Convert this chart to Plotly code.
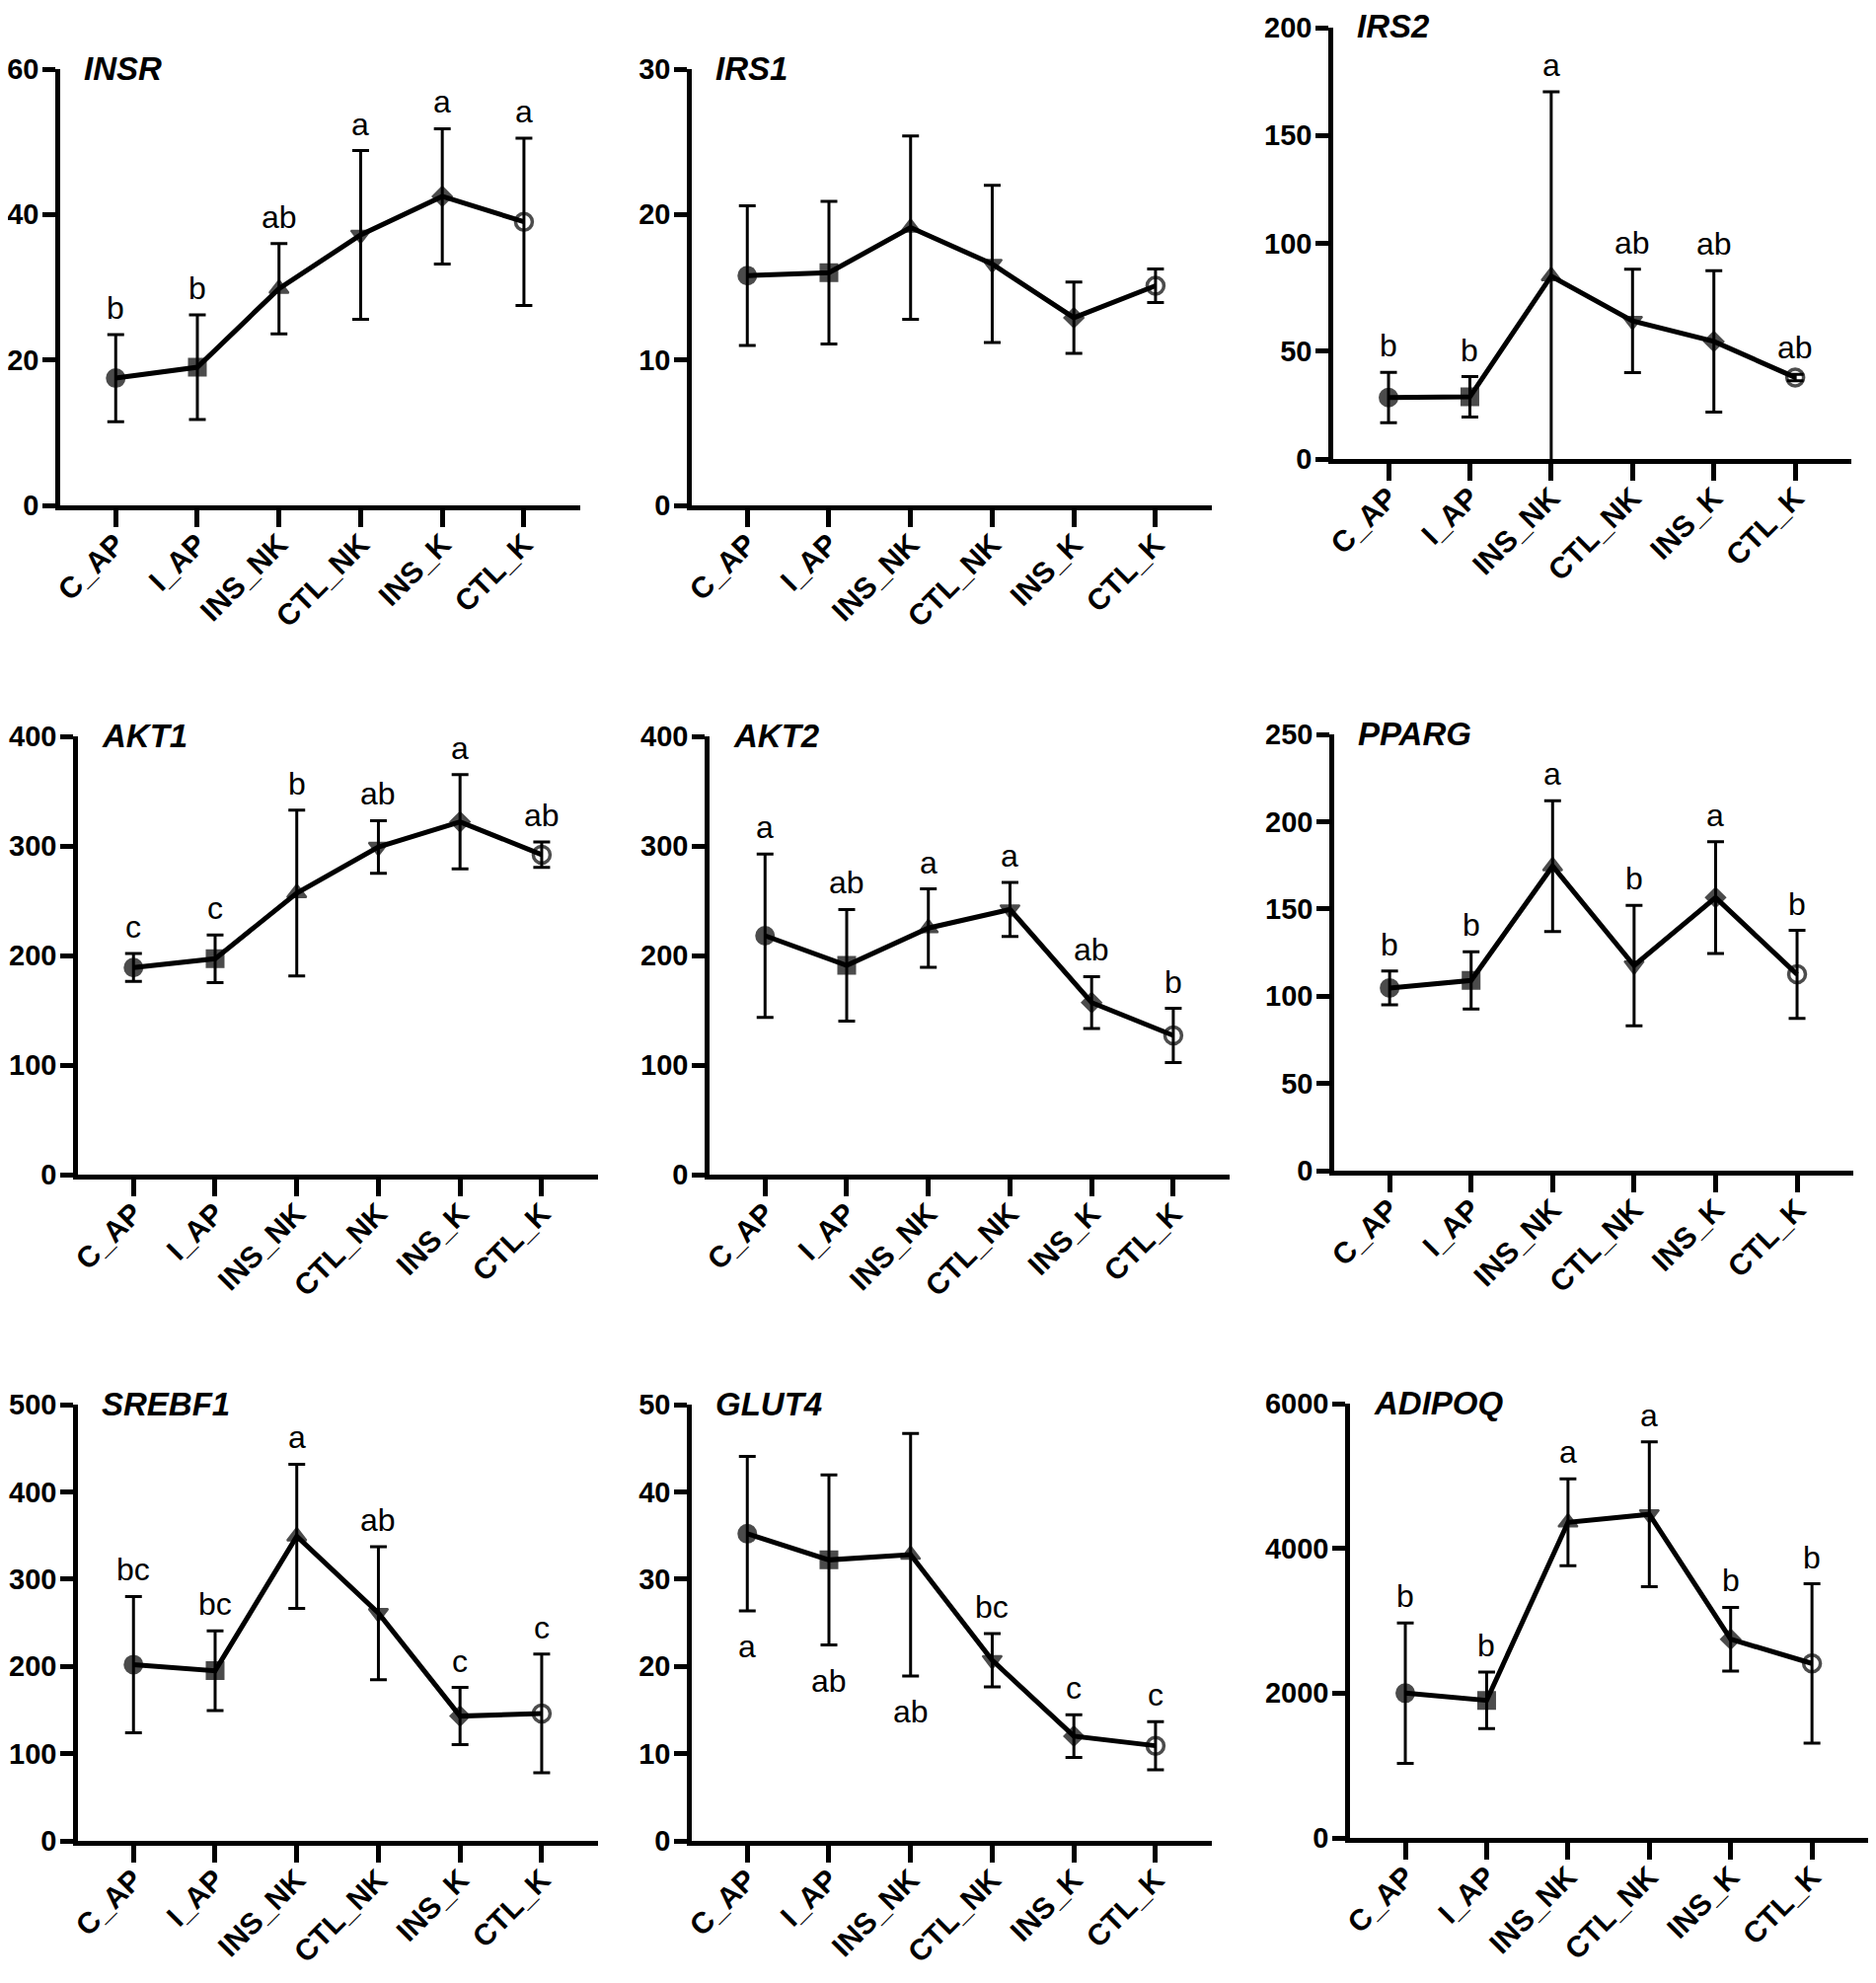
import plotly.graph_objects as go

# Group order on every x axis
groups = ["C_AP", "I_AP", "INS_NK", "CTL_NK", "INS_K", "CTL_K"]

# Mean and SD per gene
insr_mean = [17.5, 19.0, 29.8, 37.2, 42.5, 39.0]
insr_sd = [6.0, 7.2, 6.2, 11.6, 9.3, 11.5]
insr_letters = ["b", "b", "ab", "a", "a", "a"]

irs1_mean = [15.8, 16.0, 19.1, 16.6, 12.9, 15.1]
irs1_sd = [4.8, 4.9, 6.3, 5.4, 2.45, 1.15]
irs1_letters = ["", "", "", "", "", ""]

irs2_mean = [28.5, 28.8, 84.8, 64.0, 54.5, 37.8]
irs2_sd = [11.7, 9.4, 85.5, 24.0, 32.8, 1.5]
irs2_letters = ["b", "b", "a", "ab", "ab", "ab"]

akt1_mean = [189, 197, 257, 299, 322, 292]
akt1_sd = [12.7, 21.8, 75.6, 24.0, 43.0, 11.6]
akt1_letters = ["c", "c", "b", "ab", "a", "ab"]

akt2_mean = [218, 191, 225, 242, 157, 127]
akt2_sd = [74.6, 51.0, 35.7, 24.6, 23.7, 24.7]
akt2_letters = ["a", "ab", "a", "a", "ab", "b"]

pparg_mean = [104.7, 109.0, 174.5, 117.5, 156.5, 112.5]
pparg_sd = [9.7, 16.4, 37.5, 34.5, 32.0, 25.2]
pparg_letters = ["b", "b", "a", "b", "a", "b"]

srebf1_mean = [202, 195, 349, 261, 143, 146]
srebf1_sd = [78, 45.7, 82.6, 76.2, 32.8, 68]
srebf1_letters = ["bc", "bc", "a", "ab", "c", "c"]

glut4_mean = [35.2, 32.2, 32.8, 20.7, 12.0, 10.9]
glut4_sd = [8.85, 9.75, 13.9, 3.05, 2.45, 2.75]
glut4_letters = ["a", "ab", "ab", "bc", "c", "c"]
glut4_below = [True, True, True, False, False, False]

adipoq_mean = [2000, 1900, 4360, 4470, 2745, 2410]
adipoq_sd = [970, 390, 600, 1000, 440, 1100]
adipoq_letters = ["b", "b", "a", "a", "b", "b"]

no_below = [False] * 6

# page is 1901x2009; the html body keeps an 8px margin, so the figure is 16px smaller
PAGE_W, PAGE_H = 1901, 2009
OFF = 8
W, H = PAGE_W - 2 * OFF, PAGE_H - 2 * OFF

# name, mean, sd, letters, below flags, y max, y step, x span (page px), y span (page px, top/bottom)
panels = [
    ("INSR", insr_mean, insr_sd, insr_letters, no_below, 60, 20, (61, 588), (70, 512)),
    ("IRS1", irs1_mean, irs1_sd, irs1_letters, no_below, 30, 10, (701, 1228), (70, 512)),
    ("IRS2", irs2_mean, irs2_sd, irs2_letters, no_below, 200, 50, (1351, 1876), (28, 465)),
    ("AKT1", akt1_mean, akt1_sd, akt1_letters, no_below, 400, 100, (79, 606), (746, 1190)),
    ("AKT2", akt2_mean, akt2_sd, akt2_letters, no_below, 400, 100, (719, 1246), (746, 1190)),
    ("PPARG", pparg_mean, pparg_sd, pparg_letters, no_below, 250, 50, (1352, 1878), (744, 1186)),
    ("SREBF1", srebf1_mean, srebf1_sd, srebf1_letters, no_below, 500, 100, (79, 606), (1423, 1865)),
    ("GLUT4", glut4_mean, glut4_sd, glut4_letters, glut4_below, 50, 10, (701, 1228), (1423, 1865)),
    ("ADIPOQ", adipoq_mean, adipoq_sd, adipoq_letters, no_below, 6000, 2000, (1368, 1893), (1422, 1862)),
]

FONT = "Liberation Sans, Arial, sans-serif"
symbols = ["circle", "square", "triangle-up", "triangle-down", "diamond", "circle-open"]
sizes = [18, 17, 17, 17, 15, 17]
edge = [2, 2, 2, 2, 2, 3.5]
xs = list(range(len(groups)))

fig = go.Figure()
annotations = []
layout = {}

for i, (name, mean, sd, letters, below, ymax, ystep, xd, yd) in enumerate(panels):
    n = "" if i == 0 else str(i + 1)
    fig.add_trace(go.Scatter(
        x=xs, y=mean, mode="lines+markers",
        xaxis="x" + n, yaxis="y" + n,
        line=dict(color="black", width=5),
        marker=dict(symbol=symbols, size=sizes, color="black",
                    line=dict(color="black", width=edge)),
        error_y=dict(type="data", array=sd, visible=True,
                     color="black", thickness=3, width=8.5),
        showlegend=False, cliponaxis=False,
    ))

    # automargin off: keep the panels exactly where the domains put them
    layout["xaxis" + n] = dict(
        domain=[(xd[0] - OFF) / W, min(1, (xd[1] - OFF) / W)], anchor="y" + n,
        range=[-0.68, 5.69], tickvals=xs, ticktext=groups, tickangle=-45,
        showline=True, linewidth=4.5, linecolor="black", showgrid=False, zeroline=False,
        ticks="outside", ticklen=17, tickwidth=4.5, tickcolor="black",
        ticklabelstandoff=-12, automargin=False,
        tickfont=dict(family=FONT, size=30, color="black", weight="bold"),
    )
    layout["yaxis" + n] = dict(
        domain=[1 - (yd[1] - OFF) / H, 1 - (yd[0] - OFF) / H], anchor="x" + n,
        range=[0, ymax], tickvals=list(range(0, ymax + 1, ystep)),
        showline=True, linewidth=4.5, linecolor="black", showgrid=False, zeroline=False,
        ticks="outside", ticklen=13, tickwidth=4.5, tickcolor="black",
        ticklabelstandoff=-2, automargin=False,
        tickfont=dict(family=FONT, size=29, color="black", weight="bold"),
    )

    # gene name in the top-left corner
    annotations.append(dict(
        text=name, xref="x" + n + " domain", yref="y" + n + " domain",
        x=0, y=1, xanchor="left", yanchor="middle", xshift=22, yshift=1, showarrow=False,
        font=dict(family=FONT, size=33, color="black", weight="bold", style="italic"),
    ))

    # significance letters above (or below) the error bars
    for j, lab in enumerate(letters):
        if not lab:
            continue
        if below[j]:
            annotations.append(dict(
                text=lab, xref="x" + n, yref="y" + n, x=j, y=mean[j] - sd[j],
                xanchor="center", yanchor="top", yshift=-16, showarrow=False,
                font=dict(family=FONT, size=32, color="black"),
            ))
        else:
            annotations.append(dict(
                text=lab, xref="x" + n, yref="y" + n, x=j, y=mean[j] + sd[j],
                xanchor="center", yanchor="bottom", yshift=7, showarrow=False,
                font=dict(family=FONT, size=32, color="black"),
            ))

fig.update_layout(
    width=W, height=H,
    margin=dict(l=0, r=0, t=0, b=0, autoexpand=False),
    paper_bgcolor="white", plot_bgcolor="white",
    annotations=annotations,
    **layout,
)

fig.write_html("out.html")
